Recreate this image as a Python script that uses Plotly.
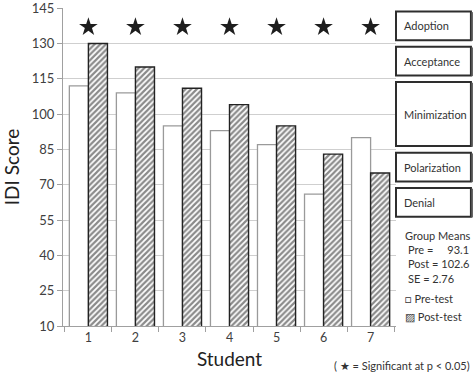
import plotly.graph_objects as go

students = ["1", "2", "3", "4", "5", "6", "7"]
pre_test = [112, 109, 95, 93, 87, 66, 90]
post_test = [130, 120, 111, 104, 95, 83, 75]
significant = [True, True, True, True, True, True, True]
star_level = 137.0

levels = ["Denial", "Polarization", "Minimization", "Acceptance", "Adoption"]
level_lo = [55, 70, 85, 115, 130]
level_hi = [70, 85, 115, 130, 145]

means_text = ["Group Means", "Pre =     93.1", "Post = 102.6", "SE = 2.76"]

TXT = "#404040"
FONT = "Lato"

fig = go.Figure()
fig.add_trace(go.Bar(
    x=students, y=pre_test, name="Pre-test",
    marker=dict(color="white", line=dict(color="#9a9a9a", width=1.3)),
))
fig.add_trace(go.Bar(
    x=students, y=post_test, name="Post-test",
    marker=dict(color="white", line=dict(color="#222", width=1.4),
                pattern=dict(shape="/", fgcolor="#151515", bgcolor="white",
                             size=4, solidity=0.55)),
))
sx = [s for s, f in zip(students, significant) if f]
fig.add_trace(go.Scatter(
    x=sx, y=[star_level] * len(sx), mode="markers",
    marker=dict(symbol="star", size=14, color="#1e1e1e"),
    showlegend=False, hoverinfo="skip",
))

shapes = []
annotations = []
inset = 1.4
for name, lo, hi in zip(levels, level_lo, level_hi):
    shapes.append(dict(type="rect", xref="paper", yref="y",
                       x0=1.0, x1=1.225, y0=lo + inset, y1=hi - inset,
                       line=dict(color="#2e2e2e", width=2), fillcolor="white"))
    shapes.append(dict(type="line", xref="paper", yref="y",
                       x0=1.229, x1=1.229, y0=lo + inset - 0.3, y1=hi - inset - 0.3,
                       line=dict(color="#666", width=1.5)))
    annotations.append(dict(xref="paper", yref="y", x=1.018, y=(lo + hi) / 2,
                            text=name, showarrow=False, xanchor="left",
                            yanchor="middle",
                            font=dict(family=FONT, size=11, color="#333")))

for i, t in enumerate(means_text):
    annotations.append(dict(xref="paper", yref="paper", x=1.02 if i == 0 else 1.03,
                            y=0.284 - i * 0.0445, text=t, showarrow=False,
                            xanchor="left", yanchor="middle",
                            font=dict(family=FONT, size=11, color="#333")))
annotations.append(dict(xref="paper", yref="paper", x=1.02, y=0.088,
                        text="□ Pre-test", showarrow=False, xanchor="left",
                        yanchor="middle",
                        font=dict(family=FONT, size=11, color="#333")))
annotations.append(dict(xref="paper", yref="paper", x=1.02, y=0.031,
                        text="▨ Post-test", showarrow=False, xanchor="left",
                        yanchor="middle",
                        font=dict(family=FONT, size=11, color="#333")))
annotations.append(dict(xref="paper", yref="paper", x=1.227, y=-0.125,
                        text="( ★ = Significant at p < 0.05)", showarrow=False,
                        xanchor="right", yanchor="middle",
                        font=dict(family=FONT, size=11, color="#333")))

fig.update_layout(
    width=474, height=376,
    margin=dict(l=63, r=78, t=8, b=50, autoexpand=False),
    paper_bgcolor="white", plot_bgcolor="white",
    barmode="group", bargap=0.19, bargroupgap=0,
    showlegend=False,
    font=dict(family=FONT, color=TXT, size=12),
    shapes=shapes, annotations=annotations,
    xaxis=dict(type="category", tickson="boundaries", ticks="outside",
               ticklen=5, tickcolor="#a0a0a0", showline=True, automargin=False,
               linecolor="#a0a0a0", showgrid=False,
               tickfont=dict(size=12.5, color=TXT),
               title=dict(text="Student", font=dict(size=19, color="#222"),
                          standoff=8)),
    yaxis=dict(range=[10, 145.05], tickvals=[10, 25, 40, 55, 70, 85, 100, 115, 130, 145],
               ticks="outside", ticklen=5, ticklabeloverflow="allow",
               tickcolor="#a0a0a0", showline=True, linecolor="#a0a0a0",
               gridcolor="#cfcfcf", gridwidth=1, zeroline=False, automargin=False,
               tickfont=dict(size=13, color=TXT),
               title=dict(text="IDI Score", font=dict(size=19, color="#222"),
                          standoff=12)),
)

fig.write_html("out.html", config={"displayModeBar": False},
               post_script="document.body.style.margin='0';document.body.style.overflow='hidden';")
